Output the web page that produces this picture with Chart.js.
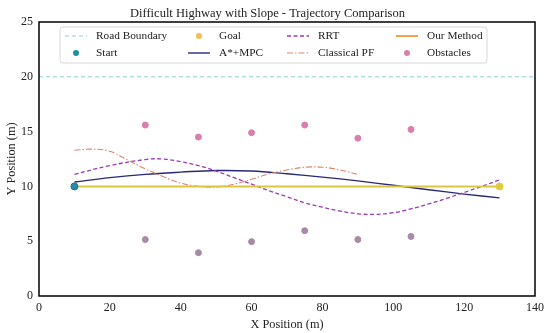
<!DOCTYPE html>
<html>
<head>
<meta charset="utf-8">
<script src="https://cdn.jsdelivr.net/npm/chart.js@4.4.0/dist/chart.umd.min.js"></script>
<style>
  html, body { margin: 0; padding: 0; background: #fff; }
  #wrap { width: 550px; height: 333px; }
</style>
</head>
<body>
<div id="wrap"><canvas id="trajChart"></canvas></div>
<script>
// ticks
const xTicks = [0, 20, 40, 60, 80, 100, 120, 140];
const yTicks = [0, 5, 10, 15, 20, 25];

// road boundary
const boundaryX = [0, 140];
const boundaryY = [20, 20];

// start / goal
const startPt = [10, 10];
const goalPt = [130, 10];

// A*+MPC
const astarX = [10, 20, 30, 40, 50, 60, 70, 80, 90, 100, 110, 120, 130];
const astarY = [10.4, 10.8, 11.1, 11.3, 11.45, 11.4, 11.15, 10.85, 10.5, 10.1, 9.7, 9.3, 8.95];

// RRT
const rrtX = [10, 20, 30, 35, 40, 45, 50, 55, 60, 65, 70, 75, 80, 85, 90, 95, 100, 105, 110, 115, 120, 125, 130];
const rrtY = [11.1, 11.9, 12.45, 12.5, 12.25, 11.9, 11.4, 10.8, 10.2, 9.6, 9.05, 8.5, 8.1, 7.75, 7.5, 7.45, 7.6, 7.95, 8.4, 8.9, 9.45, 10.0, 10.6];

// Classical PF
const pfX = [10, 15, 20, 25, 30, 35, 40, 45, 50, 55, 60, 65, 70, 75, 80, 85, 90];
const pfY = [13.3, 13.4, 13.2, 12.4, 11.6, 10.9, 10.3, 10.0, 9.95, 10.2, 10.65, 11.15, 11.5, 11.75, 11.75, 11.5, 11.1];

// Our Method
const oursX = [10, 30, 50, 70, 90, 110, 130];
const oursY = [10, 10, 10, 10, 10, 10, 10];

// obstacles
const obsX = [30, 45, 60, 75, 90, 105, 30, 45, 60, 75, 90, 105];
const obsY = [15.6, 14.5, 14.9, 15.6, 14.4, 15.2, 5.15, 3.95, 4.96, 5.96, 5.15, 5.43];

const pts = (xs, ys) => xs.map((x, i) => ({ x: x, y: ys[i] }));

const serif = "'Liberation Serif', 'DejaVu Serif', serif";

const datasets = [
  {
    label: "Road Boundary", type: "line", data: pts(boundaryX, boundaryY),
    borderColor: "#8fd0dc", borderWidth: 1, borderDash: [4, 3], pointRadius: 0, order: 9
  },
  {
    label: "A*+MPC", type: "line", data: pts(astarX, astarY),
    borderColor: "#2a2878", borderWidth: 1.4, pointRadius: 0, tension: 0.4, order: 7
  },
  {
    label: "RRT", type: "line", data: pts(rrtX, rrtY),
    borderColor: "#9a3bb4", borderWidth: 1.3, borderDash: [4, 2.5], pointRadius: 0, tension: 0.4, order: 6
  },
  {
    label: "Classical PF", type: "line", data: pts(pfX, pfY),
    borderColor: "#d9866a", borderWidth: 1.1, borderDash: [6, 2, 1.5, 2], pointRadius: 0, tension: 0.4, order: 5
  },
  {
    label: "Our Method", type: "line", data: pts(oursX, oursY),
    borderColor: "#dcc640", borderWidth: 2, pointRadius: 0, order: 4
  },
  {
    label: "Start", type: "scatter", data: [{ x: startPt[0], y: startPt[1] }],
    backgroundColor: "#1f8ea6", borderColor: "#2c6f86", borderWidth: 1, pointRadius: 3.5, order: 2
  },
  {
    label: "Goal", type: "scatter", data: [{ x: goalPt[0], y: goalPt[1] }],
    backgroundColor: "#e0cc44", borderColor: "#e0cc44", pointRadius: 3.5, order: 2
  },
  {
    label: "Obstacles", type: "scatter", data: pts(obsX, obsY),
    backgroundColor: obsY.map(y => y > 10 ? "#d97fae" : "#a88aa6"),
    borderColor: obsY.map(y => y > 10 ? "#d97fae" : "#a88aa6"),
    pointRadius: 3, order: 1
  }
];

// legend entries, column by column
const legendCols = [
  ["Road Boundary", "Start"],
  ["Goal", "A*+MPC"],
  ["RRT", "Classical PF"],
  ["Our Method", "Obstacles"]
];
const legendColor = { "Goal": "#f2c04c", "Our Method": "#f4a24c", "Obstacles": "#d97fae" };

const boxAndLegend = {
  id: "boxAndLegend",
  afterDatasetsDraw(chart) {
    const { ctx, chartArea: a } = chart;
    ctx.save();
    ctx.strokeStyle = "#000";
    ctx.lineWidth = 1.5;
    ctx.strokeRect(a.left, a.top, a.right - a.left, a.bottom - a.top);

    const bx = a.left + 21, by = a.top + 5, bw = 427, bh = 36;
    ctx.beginPath();
    ctx.roundRect(bx, by, bw, bh, 3);
    ctx.fillStyle = "rgba(255,255,255,0.85)";
    ctx.fill();
    ctx.strokeStyle = "#d8d8d8";
    ctx.lineWidth = 1;
    ctx.stroke();

    const colOff = [5, 128, 227, 336];
    const rowOff = [9, 26];
    ctx.font = "11.3px " + serif;
    ctx.textBaseline = "middle";
    legendCols.forEach((col, ci) => {
      col.forEach((label, ri) => {
        const ds = datasets.find(d => d.label === label);
        const x0 = bx + colOff[ci], y0 = by + rowOff[ri];
        const color = legendColor[label] || (Array.isArray(ds.borderColor) ? ds.borderColor[0] : ds.borderColor);
        if (ds.type === "line") {
          ctx.beginPath();
          ctx.setLineDash(ds.borderDash || []);
          ctx.strokeStyle = color;
          ctx.lineWidth = ds.borderWidth;
          ctx.moveTo(x0, y0);
          ctx.lineTo(x0 + 22, y0);
          ctx.stroke();
          ctx.setLineDash([]);
        } else {
          ctx.beginPath();
          ctx.arc(x0 + 11, y0, 3, 0, Math.PI * 2);
          ctx.fillStyle = legendColor[label] || ds.backgroundColor;
          ctx.fill();
        }
        ctx.fillStyle = "#222";
        ctx.textAlign = "left";
        ctx.fillText(label, x0 + 31, y0 + 0.5);
      });
    });
    ctx.restore();
  }
};

new Chart(document.getElementById("trajChart").getContext("2d"), {
  type: "scatter",
  data: { datasets: datasets },
  options: {
    responsive: true,
    maintainAspectRatio: false,
    animation: false,
    layout: { padding: { left: 0, right: 15, top: 0, bottom: 0 } },
    plugins: {
      legend: { display: false },
      tooltip: { enabled: false },
      title: {
        display: true,
        text: "Difficult Highway with Slope - Trajectory Comparison",
        color: "#222",
        font: { family: serif, size: 12.5, weight: "normal" },
        padding: { top: 6, bottom: 1 }
      }
    },
    scales: {
      x: {
        type: "linear",
        min: xTicks[0], max: xTicks[xTicks.length - 1],
        afterBuildTicks: s => { s.ticks = xTicks.map(v => ({ value: v })); },
        afterFit: s => { s.height = 37; },
        grid: { display: false, drawTicks: false },
        border: { display: false },
        ticks: { color: "#222", font: { family: serif, size: 12 }, padding: 5, maxRotation: 0 },
        title: { display: true, text: "X Position (m)", color: "#222", font: { family: serif, size: 12.3 }, padding: { top: 0, bottom: 1 } }
      },
      y: {
        type: "linear",
        min: yTicks[0], max: yTicks[yTicks.length - 1],
        afterBuildTicks: s => { s.ticks = yTicks.map(v => ({ value: v })); },
        afterFit: s => { s.width = 39; },
        grid: { display: false, drawTicks: false },
        border: { display: false },
        ticks: { color: "#222", font: { family: serif, size: 12 }, padding: 6 },
        title: { display: true, text: "Y Position (m)", color: "#222", font: { family: serif, size: 12.3 }, padding: { top: 4, bottom: 0 } }
      }
    }
  },
  plugins: [boxAndLegend]
});
</script>
</body>
</html>
